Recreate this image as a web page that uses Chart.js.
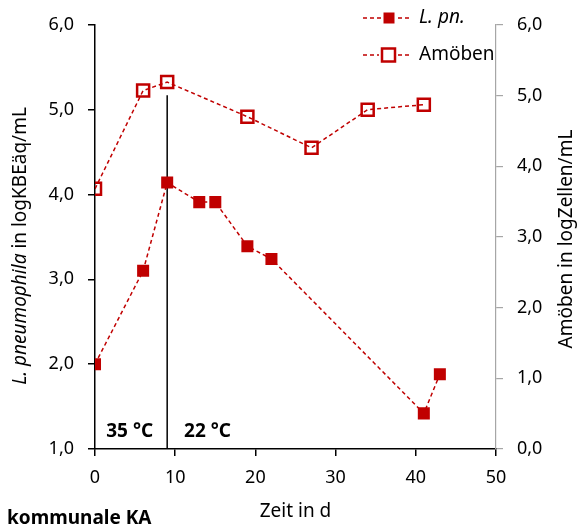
<!DOCTYPE html>
<html>
<head>
<meta charset="utf-8">
<script src="https://cdn.jsdelivr.net/npm/chart.js@4"></script>
<style>
  html, body { margin: 0; padding: 0; background: #fff; }
  #wrap { width: 578px; height: 524px; }
</style>
</head>
<body>
<div id="wrap"><canvas id="myChart" width="578" height="524"></canvas></div>
<script>
// Zeit in d
let daysLpn = [0, 6, 9, 13, 15, 19, 22, 41, 43]
let lpn = [2.0, 3.10, 4.14, 3.91, 3.91, 3.39, 3.24, 1.42, 1.88]   // logKBEaeq/mL
let daysAmoeb = [0, 6, 9, 19, 27, 34, 41]
let amoeb = [3.68, 5.07, 5.19, 4.70, 4.26, 4.80, 4.87]          // logZellen/mL

let tempSwitchDay = 9
let tempLine = [1.0, 5.17]
let tempLabels = ["35 °C", "22 °C"]

let xTicks = [0, 10, 20, 30, 40, 50]
let leftTicks = [1, 2, 3, 4, 5, 6]
let rightTicks = [0, 1, 2, 3, 4, 5, 6]

const red = "#C00000"
const font = "'Noto Sans', sans-serif"
const fmt = v => v.toFixed(1).replace(".", ",")

const pts = (xs, ys) => xs.map((x, i) => ({ x: x, y: ys[i] }))

// extra text: legend, axis titles, temperature labels
const extras = {
  id: "extras",
  afterDraw(chart) {
    const ctx = chart.ctx
    const x = chart.scales.x, yl = chart.scales.yL
    ctx.save()
    ctx.fillStyle = "#000"
    ctx.textBaseline = "middle"

    // temperature labels
    ctx.font = "bold 19px " + font
    ctx.textAlign = "left"
    ctx.fillText(tempLabels[0], x.getPixelForValue(1.4), yl.getPixelForValue(1.2))
    ctx.fillText(tempLabels[1], x.getPixelForValue(11.1), yl.getPixelForValue(1.2))

    // legend
    const items = [
      { label: "L. pn.", italic: true, fill: true, y: 18 },
      { label: "Amöben", italic: false, fill: false, y: 55 }
    ]
    items.forEach(it => {
      ctx.strokeStyle = red
      ctx.lineWidth = 1.5
      ctx.setLineDash([4, 3])
      ctx.beginPath(); ctx.moveTo(363, it.y); ctx.lineTo(412, it.y); ctx.stroke()
      ctx.setLineDash([])
      if (it.fill) {
        ctx.fillStyle = "#fff"; ctx.fillRect(381, it.y - 8, 16, 16)
        ctx.fillStyle = red; ctx.fillRect(383.5, it.y - 5.5, 11, 11)
      } else {
        ctx.fillStyle = "#fff"; ctx.fillRect(379, it.y - 9, 18, 18)
        ctx.lineWidth = 2.5; ctx.strokeRect(382, it.y - 6.5, 13, 13)
      }
      ctx.fillStyle = "#000"
      ctx.font = (it.italic ? "italic " : "") + "19px " + font
      ctx.textAlign = "left"
      ctx.fillText(it.label, 419, it.y)
    })

    // left axis title (mixed italic)
    ctx.save()
    ctx.translate(21, 246)
    ctx.rotate(-Math.PI / 2)
    const p1 = "L. pneumophila", p2 = " in logKBEäq/mL"
    ctx.font = "italic 19px " + font
    const w1 = ctx.measureText(p1).width
    ctx.font = "19px " + font
    const w2 = ctx.measureText(p2).width
    let sx = -(w1 + w2) / 2
    ctx.textAlign = "left"
    ctx.font = "italic 19px " + font
    ctx.fillText(p1, sx, 0)
    ctx.font = "19px " + font
    ctx.fillText(p2, sx + w1, 0)
    ctx.restore()

    // right axis title
    ctx.save()
    ctx.translate(567, 239)
    ctx.rotate(-Math.PI / 2)
    ctx.textAlign = "center"
    ctx.font = "19px " + font
    ctx.fillText("Amöben in logZellen/mL", 0, 0)
    ctx.restore()

    // x axis title
    ctx.textAlign = "center"
    ctx.font = "19px " + font
    ctx.fillText("Zeit in d", (chart.chartArea.left + chart.chartArea.right) / 2, 512)

    // sample label
    ctx.textAlign = "left"
    ctx.font = "bold 19px " + font
    ctx.fillText("kommunale KA", 7, 519)
    ctx.restore()
  }
}

new Chart(document.getElementById("myChart").getContext("2d"), {
  type: "line",
  data: {
    datasets: [
      {
        label: "L. pn.",
        data: pts(daysLpn, lpn),
        yAxisID: "yL",
        borderColor: red,
        borderWidth: 1.5,
        borderDash: [4, 3],
        pointStyle: "rect",
        pointRadius: 8.5,
        pointBackgroundColor: red,
        pointBorderColor: red,
        pointBorderWidth: 0,
        tension: 0
      },
      {
        label: "Amöben",
        data: pts(daysAmoeb, amoeb),
        yAxisID: "yR",
        borderColor: red,
        borderWidth: 1.5,
        borderDash: [4, 3],
        pointStyle: "rect",
        pointRadius: 8.5,
        pointBackgroundColor: "transparent",
        pointBorderColor: red,
        pointBorderWidth: 2.5,
        tension: 0
      },
      {
        label: "switch",
        data: pts([tempSwitchDay, tempSwitchDay], tempLine),
        yAxisID: "yL",
        borderColor: "#000",
        borderWidth: 1.5,
        pointRadius: 0
      }
    ]
  },
  options: {
    responsive: false,
    animation: false,
    layout: { padding: { top: 23, left: 0, right: 0, bottom: 0 } },
    plugins: { legend: { display: false }, tooltip: { enabled: false } },
    scales: {
      x: {
        type: "linear",
        min: 0, max: 50,
        afterFit: s => { s.height = 75 },
        afterBuildTicks: s => { s.ticks = xTicks.map(v => ({ value: v })) },
        border: { color: "#000", width: 1.5 },
        grid: { drawOnChartArea: false, tickLength: 7, color: "#000", lineWidth: 1.5 },
        ticks: { padding: 11, color: "#000", font: { family: font, size: 18 } }
      },
      yL: {
        position: "left",
        min: 1, max: 6,
        afterFit: s => { s.width = 95 },
        afterBuildTicks: s => { s.ticks = leftTicks.map(v => ({ value: v })) },
        border: { color: "#000", width: 1.5 },
        grid: { drawOnChartArea: false, tickLength: 7, color: "#000", lineWidth: 1.5 },
        ticks: { padding: 14, color: "#000", callback: fmt, font: { family: font, size: 18 } }
      },
      yR: {
        position: "right",
        min: 0, max: 6,
        afterFit: s => { s.width = 82 },
        afterBuildTicks: s => { s.ticks = rightTicks.map(v => ({ value: v })) },
        border: { color: "#a6a6a6", width: 1.2 },
        grid: { drawOnChartArea: false, tickLength: 7, color: "#a6a6a6", lineWidth: 1.2 },
        ticks: { padding: 14, color: "#000", callback: fmt, font: { family: font, size: 18 } }
      }
    }
  },
  plugins: [extras]
})
</script>
</body>
</html>
